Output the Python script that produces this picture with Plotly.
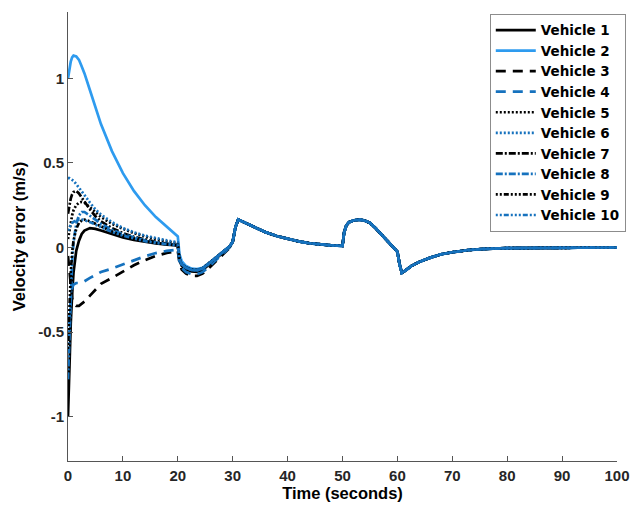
import plotly.graph_objects as go

# ---------------- data ----------------
T_EARLY = [0, 0.25, 0.5, 0.75, 1, 1.5, 2, 2.5, 3, 4, 5, 6, 8, 10, 12, 14, 16, 18, 20]
T_MID = [20.3, 20.7, 21.5, 22.5, 23.5, 24.5, 25.5, 26.5, 27.5, 28.5, 29.5, 30.0]
T_TAIL = [30.5, 31, 32, 33, 34, 36, 38, 40, 42, 44, 46, 48, 50, 50.3, 50.7, 51.2, 52, 53,
          54, 55, 56, 57, 58, 59, 60, 60.4, 60.8, 61.5, 62.5, 64, 66, 68, 70, 73, 76, 80,
          85, 90, 100]
V_TAIL = [0.12, 0.165, 0.15, 0.135, 0.12, 0.09, 0.068, 0.05, 0.036, 0.025, 0.017, 0.012,
          0.01, 0.09, 0.13, 0.15, 0.16, 0.165, 0.16, 0.145, 0.115, 0.08, 0.045, 0.01,
          -0.025, -0.1, -0.15, -0.135, -0.11, -0.085, -0.06, -0.04, -0.028, -0.015,
          -0.008, -0.004, -0.002, -0.001, 0.0]
V_MID_COMMON = [-0.07, -0.1, -0.12, -0.132, -0.135, -0.125, -0.1, -0.072, -0.045, -0.02, 0.008, 0.035]

vehicles = ["Vehicle 1", "Vehicle 2", "Vehicle 3", "Vehicle 4", "Vehicle 5",
            "Vehicle 6", "Vehicle 7", "Vehicle 8", "Vehicle 9", "Vehicle 10"]

early = [
    [-1.0, -0.7, -0.45, -0.28, -0.15, -0.02, 0.04, 0.08, 0.1, 0.115, 0.11, 0.1, 0.08, 0.06, 0.045, 0.033, 0.024, 0.017, 0.012],
    [1.0, 1.06, 1.1, 1.125, 1.135, 1.13, 1.11, 1.07, 1.03, 0.93, 0.83, 0.73, 0.57, 0.44, 0.335, 0.25, 0.18, 0.12, 0.065],
    [-0.05, -0.15, -0.24, -0.3, -0.33, -0.345, -0.345, -0.335, -0.32, -0.285, -0.25, -0.215, -0.18, -0.14, -0.105, -0.075, -0.05, -0.032, -0.02],
    [-0.55, -0.4, -0.3, -0.24, -0.22, -0.21, -0.21, -0.205, -0.2, -0.18, -0.16, -0.145, -0.125, -0.1, -0.075, -0.052, -0.033, -0.02, -0.012],
    [0.05, 0.1, 0.15, 0.19, 0.22, 0.25, 0.265, 0.27, 0.265, 0.24, 0.21, 0.18, 0.14, 0.11, 0.085, 0.065, 0.048, 0.035, 0.025],
    [0.41, 0.41, 0.405, 0.4, 0.395, 0.375, 0.355, 0.33, 0.31, 0.265, 0.225, 0.195, 0.15, 0.115, 0.09, 0.07, 0.055, 0.042, 0.03],
    [0.2, 0.25, 0.29, 0.315, 0.328, 0.335, 0.32, 0.295, 0.27, 0.225, 0.185, 0.155, 0.115, 0.085, 0.063, 0.046, 0.033, 0.023, 0.015],
    [-0.78, -0.5, -0.25, -0.08, 0.03, 0.14, 0.19, 0.21, 0.21, 0.19, 0.165, 0.14, 0.105, 0.078, 0.058, 0.042, 0.03, 0.021, 0.014],
    [-0.6, -0.35, -0.15, -0.03, 0.04, 0.11, 0.145, 0.16, 0.165, 0.155, 0.14, 0.125, 0.095, 0.07, 0.052, 0.038, 0.027, 0.019, 0.012],
    [0.1, 0.12, 0.135, 0.145, 0.152, 0.16, 0.165, 0.165, 0.162, 0.15, 0.135, 0.12, 0.092, 0.07, 0.052, 0.038, 0.027, 0.019, 0.012],
]

mid = [
    [-0.075, -0.108, -0.13, -0.142, -0.144, -0.133, -0.107, -0.077, -0.049, -0.023, 0.006, 0.034],
    [-0.04, -0.08, -0.11, -0.125, -0.128, -0.12, -0.097, -0.07, -0.044, -0.02, 0.008, 0.035],
    [-0.09, -0.13, -0.155, -0.168, -0.168, -0.155, -0.128, -0.095, -0.062, -0.032, 0.0, 0.03],
    [-0.085, -0.12, -0.145, -0.158, -0.158, -0.146, -0.12, -0.088, -0.057, -0.029, 0.002, 0.032],
    [-0.065, -0.097, -0.118, -0.13, -0.133, -0.123, -0.099, -0.071, -0.045, -0.02, 0.008, 0.035],
    [-0.065, -0.097, -0.118, -0.13, -0.133, -0.123, -0.099, -0.071, -0.045, -0.02, 0.008, 0.035],
    [-0.07, -0.1, -0.12, -0.132, -0.135, -0.125, -0.1, -0.072, -0.045, -0.02, 0.008, 0.035],
    [-0.07, -0.1, -0.12, -0.132, -0.135, -0.125, -0.1, -0.072, -0.045, -0.02, 0.008, 0.035],
    [-0.07, -0.1, -0.12, -0.132, -0.135, -0.125, -0.1, -0.072, -0.045, -0.02, 0.008, 0.035],
    [-0.07, -0.1, -0.12, -0.132, -0.135, -0.125, -0.1, -0.072, -0.045, -0.02, 0.008, 0.035],
]

x_ticks = [0, 10, 20, 30, 40, 50, 60, 70, 80, 90, 100]
y_ticks = [-1, -0.5, 0, 0.5, 1]
y_tick_text = ["-1", "-0.5", "0", "0.5", "1"]

# ---------------- styles ----------------
BLACK = "#000000"
BLUE = "#1672BE"
LIGHT = "#2E9BEF"
colors = [BLACK, LIGHT, BLACK, BLUE, BLACK, BLUE, BLACK, BLUE, BLACK, BLUE]
dashes = ["solid", "solid", "10px,7px", "10px,7px", "2px,2px", "2px,2px",
          "7px,2px,2px,2px", "7px,2px,2px,2px", "2px,2px,2px,2px,5px,2px,2px,2px",
          "2px,2px,2px,2px,5px,2px,2px,2px"]

ARIAL = "Liberation Sans, Arial, sans-serif"
LEG_FONT = "DejaVu Sans, Arial, sans-serif"

fig = go.Figure()
t_full = T_EARLY + T_MID + T_TAIL
for i, name in enumerate(vehicles):
    fig.add_trace(go.Scatter(
        x=t_full, y=early[i] + mid[i] + V_TAIL, mode="lines", name=name,
        line=dict(color=colors[i], width=2.7, dash=dashes[i]),
    ))

# overlapping consensus part (all vehicles coincide) - rendered solid blue
fig.add_trace(go.Scatter(
    x=T_MID + T_TAIL, y=V_MID_COMMON + V_TAIL, mode="lines", showlegend=False,
    line=dict(color=BLUE, width=2.7), hoverinfo="skip",
))

fig.update_layout(
    width=642, height=513,
    margin=dict(l=68, r=25, t=12, b=52),
    paper_bgcolor="white", plot_bgcolor="white",
    font=dict(family=ARIAL, weight="bold"),
    showlegend=True,
    legend=dict(
        x=1.016, y=0.996, xanchor="right", yanchor="top",
        bgcolor="white", bordercolor="#8c8c8c", borderwidth=1,
        font=dict(family=LEG_FONT, size=13.5, color="#000000", weight="bold"),
        tracegroupgap=0, itemwidth=40,
    ),
    xaxis=dict(
        range=[0, 100], tickvals=x_ticks, ticks="inside", ticklen=5, tickcolor="#555555",
        showline=True, linecolor="#555555", linewidth=1, showgrid=False, zeroline=False,
        tickfont=dict(family=ARIAL, size=15, color="#262626", weight="bold"),
        ticklabelstandoff=1,
        title=dict(text="Time (seconds)",
                   font=dict(family=ARIAL, size=16.5, color="#000000", weight="bold"), standoff=4),
    ),
    yaxis=dict(
        range=[-1.263, 1.393], tickvals=y_ticks, ticktext=y_tick_text, ticks="inside",
        ticklen=5, tickcolor="#555555",
        showline=True, linecolor="#555555", linewidth=1, showgrid=False, zeroline=False,
        tickfont=dict(family=ARIAL, size=15, color="#262626", weight="bold"),
        ticklabelstandoff=0,
        title=dict(text="Velocity error (m/s)",
                   font=dict(family=ARIAL, size=16.5, color="#000000", weight="bold"), standoff=8),
    ),
)

fig.write_html("out.html")
